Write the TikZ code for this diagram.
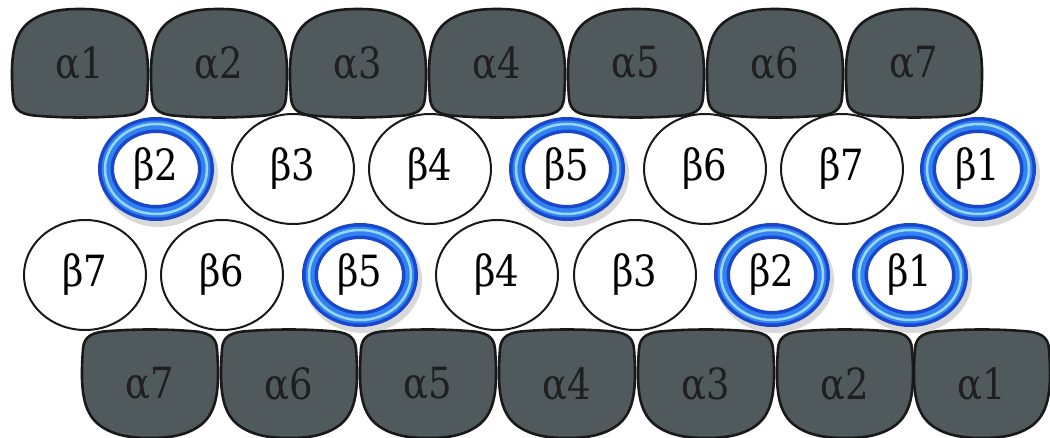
\documentclass[tikz,border=0pt]{standalone}
\usepackage{fontspec}
\newfontfamily\tmsfont{DejaVu Serif}[FakeStretch=0.86]
\definecolor{alphafill}{RGB}{80,90,93}
\definecolor{ringdark}{RGB}{24,70,205}
\definecolor{ringmid}{RGB}{50,130,240}
\definecolor{ringhi}{RGB}{150,215,255}
\tikzset{
  lbl/.style={font=\tmsfont\fontsize{43}{48}\selectfont, text=black, inner sep=0pt},
  alphalbl/.style={lbl, text=black!88},
  blob/.style={fill=alphafill, draw=black!90, line width=2.6pt, line join=round},
  plaincirc/.style={fill=white, draw=black!90, line width=2pt},
}
\newcommand{\alphablob}{(-67,-35) .. controls (-70,5) and (-67,27) .. (-52,40)
  .. controls (-37,52) and (-18,54) .. (0,54) .. controls (18,54) and (37,52) .. (52,40)
  .. controls (67,27) and (70,5) .. (67,-35) .. controls (66,-48) and (58,-52) .. (40,-53)
  .. controls (15,-55) and (-15,-55) .. (-40,-53) .. controls (-58,-52) and (-66,-48) .. cycle}
\newcommand{\ringat}[2]{%
    \draw[black, opacity=0.15, line width=18pt] (#1+3,#2-5) ellipse [x radius=50, y radius=44];
    \fill[white] (#1,#2) ellipse [x radius=44, y radius=38];
    \draw[ringdark, line width=16pt] (#1,#2) ellipse [x radius=50, y radius=44];
    \draw[ringmid, line width=9pt] (#1,#2) ellipse [x radius=50, y radius=44];
    \draw[ringhi, line width=2.5pt] (#1,#2) ellipse [x radius=51, y radius=45];
}
\begin{document}
\begin{tikzpicture}[x=1pt,y=1pt]
\useasboundingbox (0,0) rectangle (1050,437);
\fill[white] (0,0) rectangle (1050,437);
% top alpha row
\foreach \x/\n in {80/1,219/2,358/3,497/4,636/5,775/6,914/7}{
  \begin{scope}[shift={(\x,374)}]
    \draw[blob] \alphablob;
  \end{scope}
  \node[alphalbl] (ta\n) at (\x,374) {α\n};
}
% bottom alpha row
\foreach \x/\n in {150/7,289/6,428/5,567/4,706/3,845/2,982/1}{
  \begin{scope}[shift={(\x,53)},yscale=-1]
    \draw[blob] \alphablob;
  \end{scope}
  \node[alphalbl] (ba\n) at (\x,53) {α\n};
}
% beta row 1 (upper)
\foreach \x/\n/\r in {156/2/1,293/3/0,430/4/0,567/5/1,705/6/0,842/7/0,978/1/1}{
  \ifnum\r=1
    \ringat{\x}{268}
  \else
    \draw[plaincirc] (\x,268) ellipse [x radius=61, y radius=55];
  \fi
  \node[lbl] (ua\n) at (\x,268) {β\n};
}
% beta row 2 (lower)
\foreach \x/\n/\r in {85/7/0,222/6/0,360/5/1,497/4/0,635/3/0,772/2/1,910/1/1}{
  \ifnum\r=1
    \ringat{\x}{162}
  \else
    \draw[plaincirc] (\x,162) ellipse [x radius=61, y radius=55];
  \fi
  \node[lbl] (lb\n) at (\x,162) {β\n};
}
\end{tikzpicture}
\end{document}
